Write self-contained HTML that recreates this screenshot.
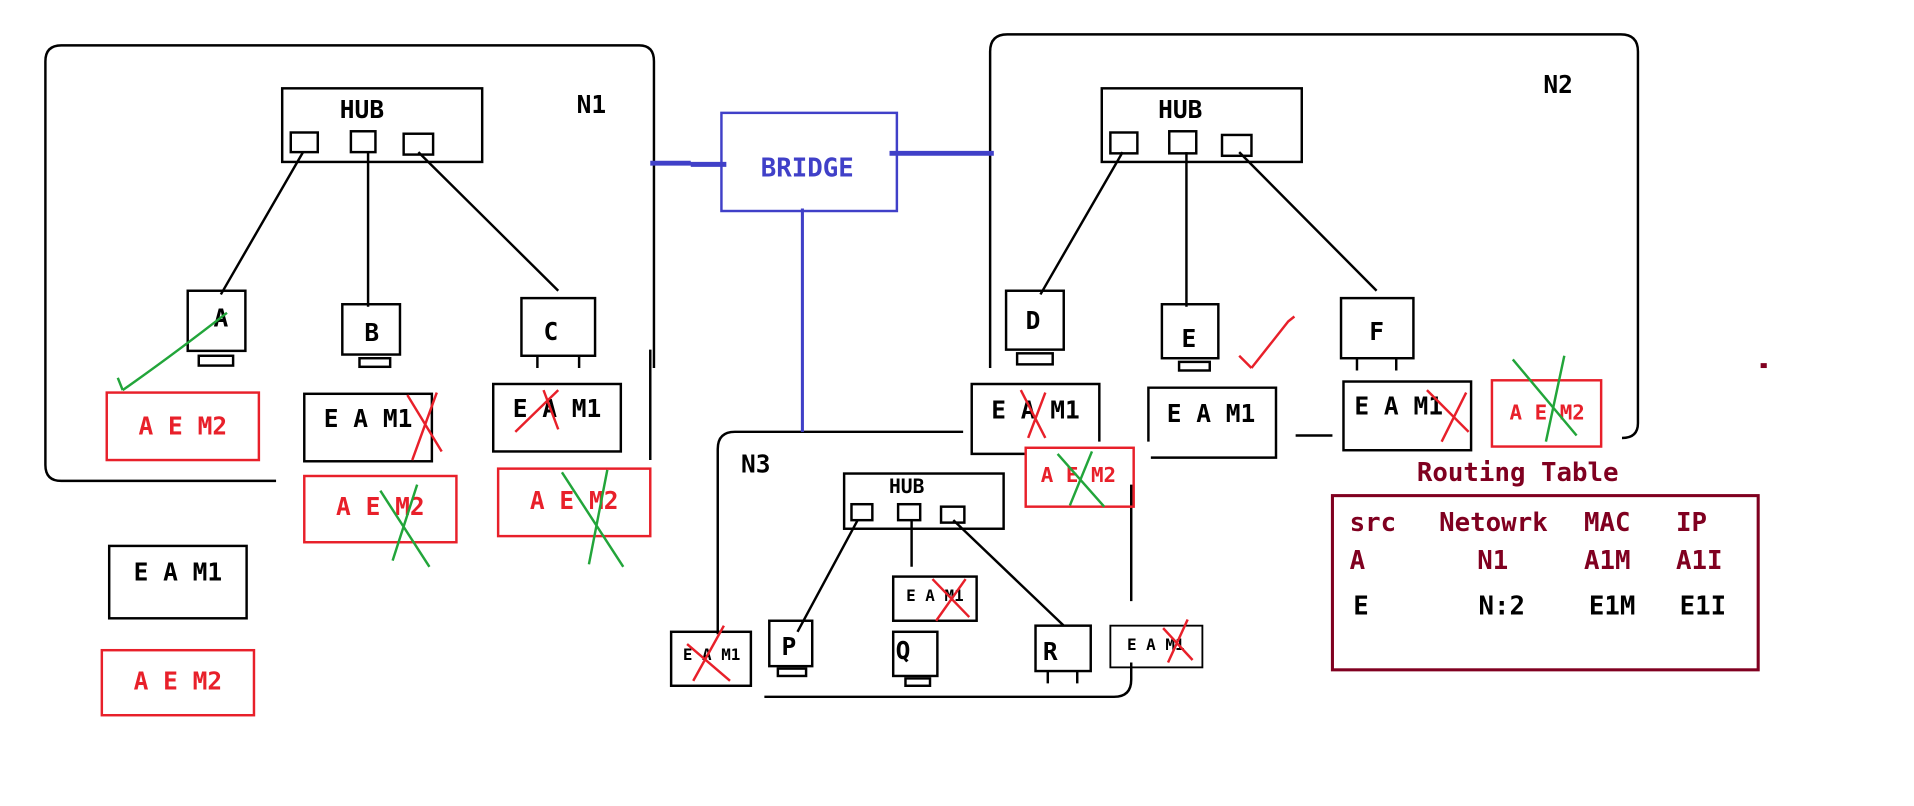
<!DOCTYPE html>
<html><head><meta charset="utf-8"><style>
html,body{margin:0;padding:0;background:#fff;width:1914px;height:806px;overflow:hidden}
svg{display:block}
text{font-family:"DejaVu Sans Mono","Liberation Mono",monospace;font-weight:bold}
</style></head><body>
<svg width="1914" height="806" viewBox="0 0 1560 657" preserveAspectRatio="none">
<g fill="none" stroke="#000" stroke-width="2">
<!-- N1 -->
<path d="M225 392 H50 Q37 392 37 379 V50 Q37 37 50 37 H521 Q533 37 533 50 V300"/>
<path d="M530 285 V375"/>
<rect x="230" y="72" width="163" height="60"/>
<rect x="237" y="108" width="22" height="16"/><rect x="286" y="107" width="20" height="17"/><rect x="329" y="109" width="24" height="17"/>
<path d="M247 124 L180 240 M300 124 V250 M341 124 L455 237"/>
<rect x="153" y="237" width="47" height="49"/><rect x="162" y="290" width="28" height="8"/>
<rect x="279" y="248" width="47" height="41"/><rect x="293" y="292" width="25" height="7"/>
<rect x="425" y="243" width="60" height="47"/><path d="M438 290 V300 M472 290 V300"/>
<rect x="248" y="321" width="104" height="55"/>
<rect x="402" y="313" width="104" height="55"/>
<rect x="89" y="445" width="112" height="59"/>
<!-- N2 -->
<path d="M807 300 V42 Q807 28 821 28 H1321 Q1335 28 1335 42 V345 Q1335 357 1322 357"/>
<rect x="898" y="72" width="163" height="60"/>
<rect x="905" y="108" width="22" height="17"/><rect x="953" y="107" width="22" height="18"/><rect x="996" y="110" width="24" height="17"/>
<path d="M915 124 L848 240 M967 124 V250 M1010 124 L1122 237"/>
<rect x="820" y="237" width="47" height="48"/><rect x="829" y="288" width="29" height="9"/>
<rect x="947" y="248" width="46" height="44"/><rect x="961" y="295" width="25" height="7"/>
<rect x="1093" y="243" width="59" height="49"/><path d="M1106 292 V302 M1138 292 V302"/>
<path d="M835 370 H792 V313 H896 V360"/>
<path d="M936 360 V316 H1040 V373 H938"/>
<path d="M1056 355 H1086"/>
<rect x="1095" y="311" width="104" height="56"/>
<!-- N3 -->
<path d="M785 352 H599 Q585 352 585 366 V517"/>
<path d="M623 568 H908 Q922 568 922 554 V540"/>
<path d="M922 395 V490"/>
<rect x="688" y="386" width="130" height="45"/>
<rect x="694" y="411" width="17" height="13"/><rect x="732" y="411" width="18" height="13"/><rect x="767" y="413" width="19" height="13"/>
<path d="M699 424 L650 515 M743 424 V462 M777 424 L867 510"/>
<rect x="728" y="470" width="68" height="36"/>
<rect x="627" y="506" width="35" height="37"/><rect x="634" y="545" width="23" height="6"/>
<rect x="728" y="515" width="36" height="36"/><rect x="738" y="553" width="20" height="6"/>
<rect x="844" y="510" width="45" height="37"/><path d="M854 547 V557 M878 547 V557"/>
<rect x="547" y="515" width="65" height="44"/>
<rect x="905" y="510" width="75" height="34" stroke-width="1.5"/>
</g>
<g fill="none" stroke="#e8202a" stroke-width="2">
<rect x="87" y="320" width="124" height="55"/>
<rect x="248" y="388" width="124" height="54"/>
<rect x="406" y="382" width="124" height="55"/>
<rect x="83" y="530" width="124" height="53"/>
<rect x="836" y="365" width="88" height="48"/>
<rect x="1216" y="310" width="89" height="54"/>
</g>
<!-- blue bridge -->
<rect x="588" y="92" width="143" height="80" fill="none" stroke="#4040c8" stroke-width="2"/>
<path d="M530 133 H563 M563 134 H592 M725 125 H810" stroke="#4040c8" stroke-width="4" fill="none"/>
<path d="M654 170 V352" stroke="#4040c8" stroke-width="2.5"/>
<text x="658" y="144" font-size="21" fill="#4040c8" text-anchor="middle">BRIDGE</text>
<!-- black labels -->
<g fill="#000" font-size="20" text-anchor="middle">
<text x="295" y="96">HUB</text><text x="962" y="96">HUB</text>
<text x="482" y="92">N1</text><text x="1270" y="76">N2</text><text x="616" y="385">N3</text>
<text x="180" y="266">A</text><text x="303" y="278">B</text><text x="449" y="277">C</text>
<text x="842" y="268">D</text><text x="969" y="283">E</text><text x="1122" y="277">F</text>
<text x="300" y="348">E A M1</text><text x="454" y="340">E A M1</text>
<text x="145" y="473">E A M1</text>
<text x="844" y="341">E A M1</text><text x="987" y="344">E A M1</text><text x="1140" y="338">E A M1</text>
<text x="643" y="534">P</text><text x="736" y="537">Q</text><text x="856" y="538">R</text>
<text x="739" y="402" font-size="16">HUB</text>
<text x="762" y="490" font-size="13">E A M1</text>
<text x="580" y="538" font-size="13">E A M1</text>
<text x="942" y="530" font-size="13">E A M1</text>
</g>
<g fill="#e8202a" font-size="20" text-anchor="middle">
<text x="149" y="354">A E M2</text><text x="310" y="420">A E M2</text><text x="468" y="415">A E M2</text>
<text x="145" y="562">A E M2</text>
<text x="879" y="393" font-size="17">A E M2</text><text x="1261" y="342" font-size="17">A E M2</text>
</g>
<!-- red crosses -->
<g stroke="#e8202a" stroke-width="2" fill="none">
<path d="M332 322 L360 368 M356 320 L336 375"/>
<path d="M420 352 L455 318 M443 318 L455 350"/>
<path d="M832 318 L852 357 M852 320 L838 357"/>
<path d="M1163 318 L1197 352 M1195 320 L1175 360"/>
<path d="M760 472 L790 503 M787 472 L763 506"/>
<path d="M560 525 L595 555 M590 510 L565 555"/>
<path d="M948 512 L972 538 M968 505 L952 540"/>
<path d="M1020 300 L1010 290 M1020 300 L1050 262 L1055 258"/>
</g>
<g stroke="#22a53a" stroke-width="2" fill="none">
<path d="M185 255 Q140 290 100 318 M100 318 L96 308"/>
<path d="M310 400 L350 462 M340 395 L320 457"/>
<path d="M458 385 L508 462 M495 383 L480 460"/>
<path d="M862 370 L900 413 M890 368 L872 412"/>
<path d="M1233 293 L1285 355 M1275 290 L1260 360"/>
</g>
<rect x="1435" y="296" width="5" height="4" fill="#800020"/>
<!-- routing table -->
<text x="1237" y="392" font-size="21" fill="#800020" text-anchor="middle">Routing Table</text>
<rect x="1086" y="404" width="347" height="142" fill="none" stroke="#800020" stroke-width="2.5"/>
<g font-size="21" fill="#800020">
<text x="1100" y="433">src</text><text x="1173" y="433">Netowrk</text><text x="1291" y="433">MAC</text><text x="1366" y="433">IP</text>
<text x="1100" y="464">A</text><text x="1204" y="464">N1</text><text x="1291" y="464">A1M</text><text x="1366" y="464">A1I</text>
</g>
<g font-size="21" fill="#000">
<text x="1103" y="501">E</text><text x="1205" y="501">N:2</text><text x="1295" y="501">E1M</text><text x="1369" y="501">E1I</text>
</g>
</svg>
</body></html>
